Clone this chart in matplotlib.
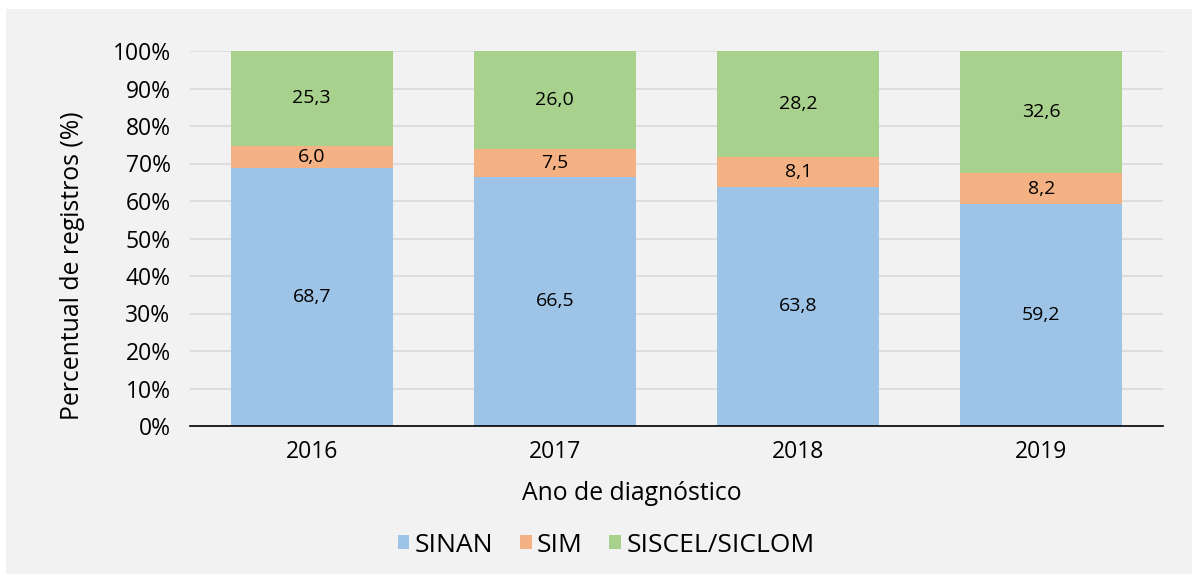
import matplotlib.pyplot as plt
from matplotlib.patches import Rectangle
import numpy as np

plt.rcParams['font.family'] = ['Open Sans', 'DejaVu Sans']

years = ['2016', '2017', '2018', '2019']
sinan = [68.7, 66.5, 63.8, 59.2]
sim = [6.0, 7.5, 8.1, 8.2]
siscel = [25.3, 26.0, 28.2, 32.6]

series = [('SINAN', sinan, '#9DC3E6'),
          ('SIM', sim, '#F4B183'),
          ('SISCEL/SICLOM', siscel, '#A9D18E')]

W, H = 1192, 574
fig = plt.figure(figsize=(W / 100, H / 100), dpi=100, facecolor='white')
fig.patches.append(Rectangle((6 / W, 0), 1, 1 - 9 / H, transform=fig.transFigure,
                             facecolor='#F2F2F2', edgecolor='none', zorder=-10))
ax = fig.add_axes([190 / W, 1 - 426 / H, 973 / W, 375 / H])
ax.patch.set_alpha(0)

x = np.arange(len(years))
totals = np.sum([s[1] for s in series], axis=0)
bottom = np.zeros(len(years))
for name, vals, color in series:
    frac = np.array(vals) / totals
    ax.bar(x, frac, 0.665, bottom=bottom, color=color, label=name, zorder=2)
    for xi, b, f, v in zip(x, bottom, frac, vals):
        ax.text(xi, b + f / 2, f'{v:.1f}'.replace('.', ','), ha='center', va='center',
                fontsize=14, color='black', zorder=3)
    bottom += frac

ax.set_xlim(-0.5, 3.5)
ax.set_ylim(0, 1)
ticks = np.arange(0, 1.01, 0.1)
ax.set_yticks(ticks)
ax.set_yticklabels([f'{int(round(v * 100))}%' for v in ticks], fontsize=16.5)
ax.set_xticks(x)
ax.set_xticklabels(years, fontsize=16.5)
ax.tick_params(axis='both', length=0)
ax.tick_params(axis='y', pad=14)
ax.tick_params(axis='x', pad=10)
ax.grid(axis='y', color='#D9D9D9', linewidth=1.2, zorder=0)
ax.set_axisbelow(True)
for side in ['top', 'right', 'left']:
    ax.spines[side].set_visible(False)
ax.spines['bottom'].set_color('black')
ax.spines['bottom'].set_linewidth(1.2)
ax.spines['bottom'].set_zorder(4)

fig.text(73 / W, 1 - 266 / H, 'Percentual de registros (%)', rotation=90,
         ha='center', va='center', fontsize=17.8)
fig.text(632 / W, 1 - 494 / H, 'Ano de diagnóstico', ha='center', va='center',
         fontsize=17.8)

handles, labels = ax.get_legend_handles_labels()
fig.legend(handles, labels, loc='center', bbox_to_anchor=(606 / W, 1 - 545 / H),
           ncol=3, frameon=False, fontsize=19, handlelength=0.45, handleheight=0.45,
           handletextpad=0.2, columnspacing=1.0)

fig.savefig('out.png', dpi=100, facecolor=fig.get_facecolor())
